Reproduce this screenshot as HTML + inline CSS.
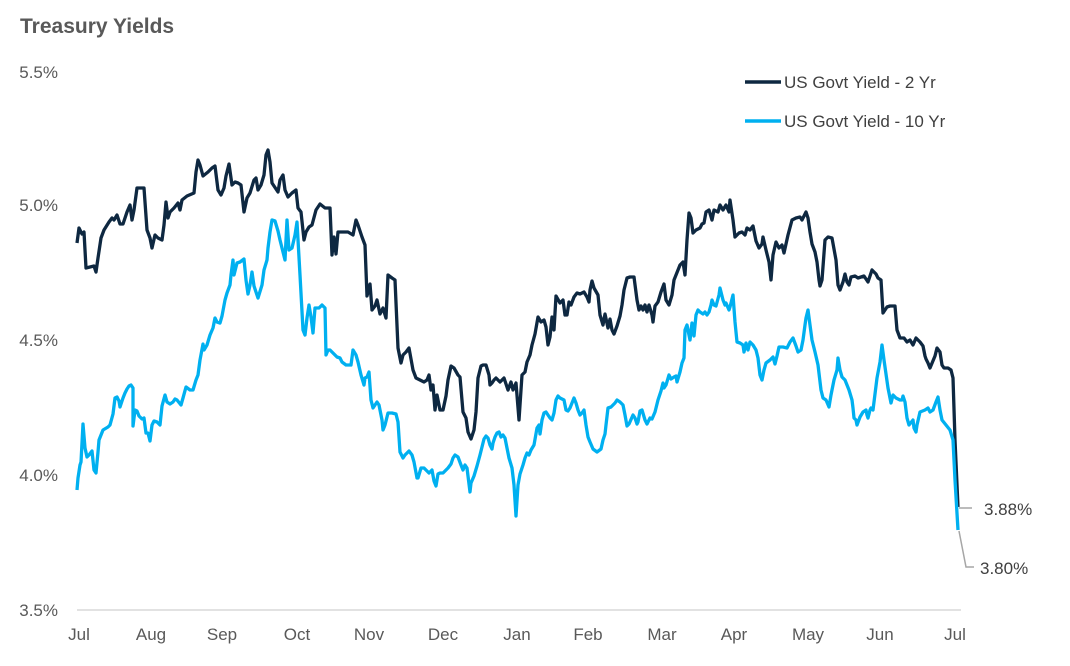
<!DOCTYPE html>
<html><head><meta charset="utf-8"><style>
html,body{margin:0;padding:0;background:#fff;}
svg{display:block;font-family:"Liberation Sans",Arial,sans-serif;}
</style></head><body>
<svg width="1070" height="666" viewBox="0 0 1070 666" xmlns="http://www.w3.org/2000/svg">
<text x="20" y="33" font-size="21" font-weight="bold" fill="#595959">Treasury Yields</text>
<g font-size="17" fill="#595959">
<text x="58" y="78" text-anchor="end">5.5%</text>
<text x="58" y="211" text-anchor="end">5.0%</text>
<text x="58" y="346" text-anchor="end">4.5%</text>
<text x="58" y="481" text-anchor="end">4.0%</text>
<text x="58" y="616" text-anchor="end">3.5%</text>
</g>
<line x1="77" y1="610" x2="961" y2="610" stroke="#d9d9d9" stroke-width="1.5"/>
<g font-size="17" fill="#595959" text-anchor="middle">
<text x="79" y="640">Jul</text><text x="151" y="640">Aug</text><text x="222" y="640">Sep</text>
<text x="297" y="640">Oct</text><text x="369" y="640">Nov</text><text x="443" y="640">Dec</text>
<text x="517" y="640">Jan</text><text x="588" y="640">Feb</text><text x="662" y="640">Mar</text>
<text x="734" y="640">Apr</text><text x="808" y="640">May</text><text x="880" y="640">Jun</text>
<text x="955" y="640">Jul</text>
</g>
<polyline fill="none" stroke="#0e2841" stroke-width="3.3" stroke-linejoin="round" points="77,243 79,228 82,234 84,232 86,268 90,267 94,266 96,272 98,258 101,238 104,230 109,222 112,218 114,220 117,215 120,224 123,224 127,212 130,205 132,220 134,210 137,188 140,188 144,188 147,230 150,238 152,248 155,235 158,238 162,240 164,225 166,202 168,218 170,212 174,208 178,203 180,210 182,200 187,196 194,193 196,172 198,160 200,165 203,176 208,172 212,168 215,166 218,190 221,195 224,188 226,176 229,164 232,185 235,182 238,183 241,185 244,212 247,198 250,193 254,180 256,178 258,190 261,185 264,175 266,155 268,150 270,162 272,183 276,189 278,192 280,180 283,175 285,190 288,197 292,193 296,190 298,208 301,212 304,240 306,232 309,227 312,225 316,210 320,204 325,208 330,208 332,255 334,237 336,254 338,232 342,232 348,232 353,235 356,220 358,225 362,237 365,245 367,296 370,284 372,310 375,306 377,300 380,314 383,308 386,318 388,275 392,278 395,280 398,348 401,363 403,355 406,352 409,348 413,370 416,378 420,380 424,382 427,380 429,375 431,390 433,385 435,410 437,395 440,410 443,410 446,396 448,380 451,366 454,368 458,375 460,377 463,412 466,418 468,432 471,439 474,430 476,412 478,378 481,366 483,365 486,365 489,375 490,385 492,383 494,380 496,378 500,382 504,378 508,390 511,382 513,390 516,383 519,420 522,375 525,372 527,362 530,355 532,345 535,334 538,317 541,322 544,320 546,327 548,345 550,337 552,317 554,330 556,296 560,303 563,300 565,315 567,315 569,302 571,305 574,297 577,293 580,294 584,292 587,297 589,302 590,290 592,281 594,288 598,295 600,315 603,325 605,314 608,328 610,319 612,330 614,334 617,326 620,316 622,305 624,290 627,278 630,277 634,277 637,300 639,310 641,306 643,310 645,305 647,312 649,305 652,315 653,322 655,306 658,302 661,292 664,284 666,300 669,305 672,295 674,280 676,275 680,265 683,262 685,275 687,240 689,213 691,218 693,233 696,230 700,228 702,224 704,223 706,212 709,210 712,220 714,210 718,212 720,205 723,210 726,205 729,212 730,200 733,220 735,237 739,233 742,232 745,235 747,228 750,230 753,226 756,241 759,248 762,244 763,237 766,250 769,262 771,280 773,255 776,242 779,248 782,245 784,253 788,235 792,220 796,218 800,217 802,220 806,212 808,218 810,232 812,244 815,252 817,262 819,280 820,286 822,280 825,240 828,237 832,238 836,260 838,285 840,290 843,282 845,274 847,282 849,285 851,277 855,276 858,278 864,276 868,282 872,270 876,274 878,278 881,280 883,313 887,307 890,306 895,306 897,330 900,338 904,338 907,342 910,340 913,345 916,338 920,342 923,346 925,356 926,359 928,363 930,368 935,356 937,348 940,352 942,365 944,368 948,368 951,370 953,378 955,440 958,507"/>
<polyline fill="none" stroke="#00b0f0" stroke-width="3.3" stroke-linejoin="round" points="77,490 78,478 80,465 81,462 83,424 85,448 87,457 89,455 92,451 94,470 96,473 98,452 99,440 103,430 108,427 110,425 113,414 115,398 117,397 119,401 120,407 123,398 125,393 127,389 129,386 131,385 133,388 133,426 135,410 137,411 139,416 142,419 144,418 146,433 148,433 150,441 152,425 154,421 157,422 160,425 162,406 165,395 167,402 170,404 173,402 175,399 177,400 181,405 183,398 186,387 190,390 193,390 196,380 198,375 200,360 203,344 204,350 207,345 210,335 213,328 215,318 217,322 220,323 222,316 225,300 227,293 230,285 231,275 233,260 234,275 237,263 240,262 244,259 246,280 248,294 250,285 252,272 254,286 258,298 262,285 264,270 267,260 268,248 270,232 272,220 275,221 278,231 280,240 283,252 285,260 287,220 289,250 292,248 295,235 297,222 300,275 303,330 305,335 307,318 309,305 311,317 313,333 315,308 319,308 322,305 325,308 326,355 328,350 330,350 332,352 337,357 340,358 342,362 346,365 351,365 353,350 356,355 358,362 361,375 364,385 365,378 367,377 369,372 371,400 373,408 375,405 377,402 379,405 382,420 383,430 385,425 388,413 392,413 396,414 398,422 400,452 403,458 405,455 409,451 412,455 414,462 417,478 418,478 421,468 424,468 429,473 432,470 434,481 436,486 437,480 438,474 440,473 443,473 446,470 448,468 451,464 453,458 455,455 458,457 461,465 463,470 465,465 467,468 470,492 471,483 474,476 477,466 480,455 484,439 486,436 488,438 490,445 492,449 493,443 495,437 497,433 499,432 501,437 503,435 505,438 509,458 512,468 514,485 516,516 518,485 520,474 523,465 525,458 527,453 529,455 531,450 534,445 537,428 539,425 540,434 542,420 544,413 546,412 548,415 550,418 552,420 554,413 556,400 558,396 560,398 564,400 566,410 568,411 570,408 574,398 576,403 578,410 580,415 582,413 584,410 586,425 588,437 590,442 593,449 597,452 601,449 603,440 605,434 606,425 608,408 611,407 615,403 617,400 620,402 623,405 625,415 627,426 629,424 633,415 635,418 637,424 638,422 640,411 642,410 645,420 647,424 650,418 652,419 655,412 658,400 661,391 663,383 664,388 666,385 669,375 671,379 674,377 676,376 677,382 680,372 682,363 684,358 685,330 687,325 690,340 692,323 694,336 696,315 698,310 700,312 703,314 705,312 707,315 709,312 711,305 712,300 714,305 716,306 719,295 720,288 723,300 725,305 726,303 729,310 730,307 733,295 735,322 737,342 740,343 743,345 744,352 746,343 748,350 750,342 753,345 756,350 758,358 760,375 762,380 764,370 766,363 770,360 773,357 775,364 777,356 779,347 783,347 787,348 790,342 793,338 796,346 798,352 801,350 803,340 805,325 806,318 808,310 810,325 812,340 815,352 818,365 821,390 823,398 826,400 829,407 831,395 834,380 837,370 838,358 840,370 842,377 845,380 849,390 852,400 853,408 854,418 856,420 857,425 860,417 863,412 866,410 867,415 868,418 870,410 871,408 873,410 877,378 880,362 882,345 884,360 888,388 891,403 893,395 896,398 900,400 902,400 903,396 905,402 907,418 909,425 913,420 914,428 916,432 917,425 920,412 925,410 928,408 930,412 933,410 936,402 938,397 940,410 942,420 946,425 950,430 953,440 955,480 958,530"/>
<polyline fill="none" stroke="#a6a6a6" stroke-width="1.5" points="959,508 972,508"/>
<polyline fill="none" stroke="#a6a6a6" stroke-width="1.5" points="959,531 966,567 974,567"/>
<text x="984" y="515" font-size="17" fill="#404040">3.88%</text>
<text x="980" y="574" font-size="17" fill="#404040">3.80%</text>
<line x1="745" y1="82" x2="781" y2="82" stroke="#0e2841" stroke-width="3.5"/>
<text x="784" y="88" font-size="17" fill="#404040">US Govt Yield - 2 Yr</text>
<line x1="745" y1="121" x2="781" y2="121" stroke="#00b0f0" stroke-width="3.5"/>
<text x="784" y="127" font-size="17" fill="#404040">US Govt Yield - 10 Yr</text>
</svg>
</body></html>
